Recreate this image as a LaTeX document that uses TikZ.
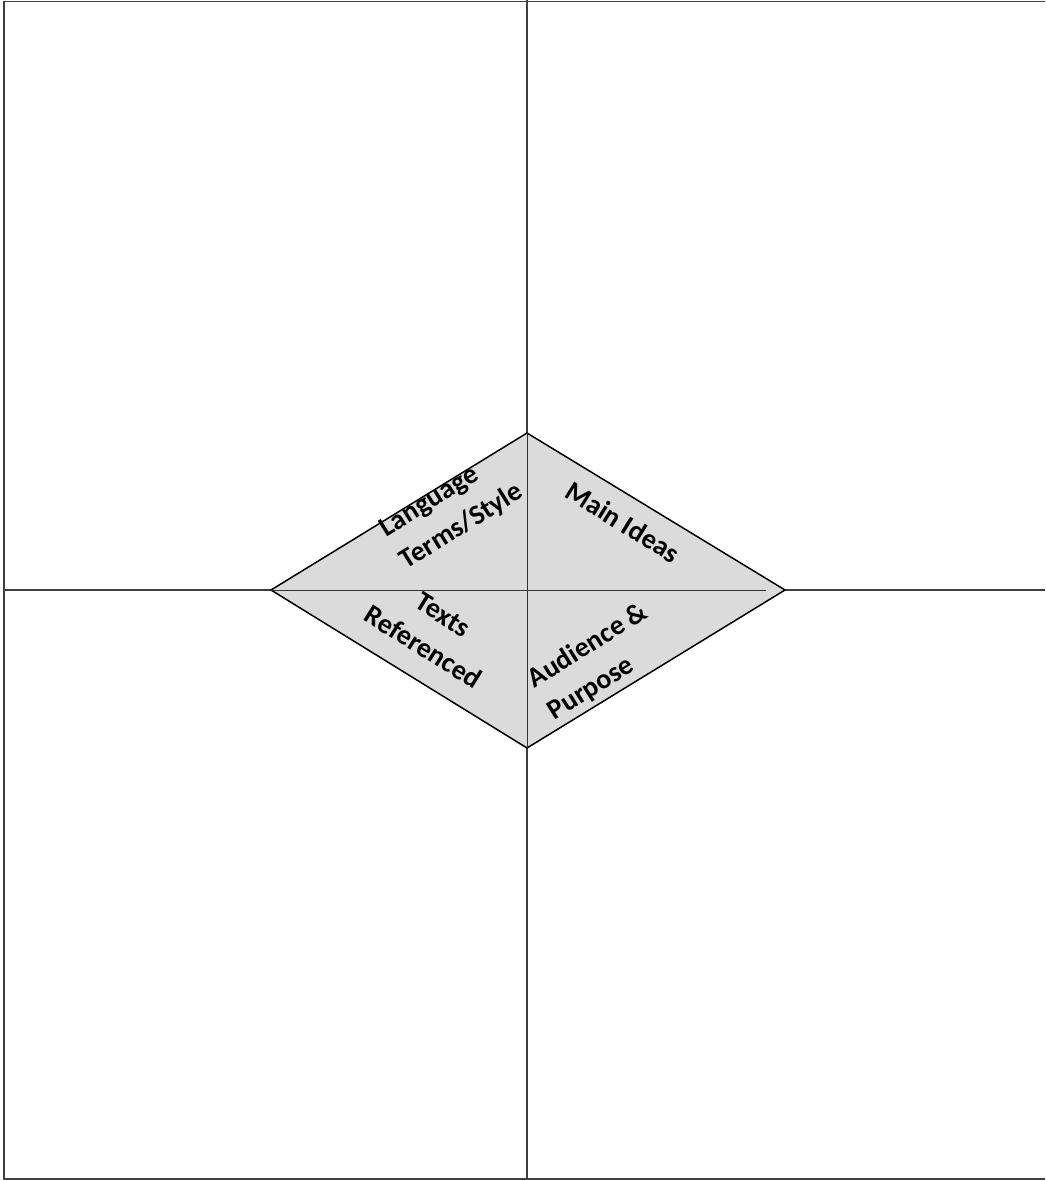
\documentclass[tikz,border=0pt]{standalone}
\usepackage{fontspec}
\setmainfont{Carlito}
\begin{document}
\begin{tikzpicture}[x=1pt,y=-1pt,
  frameline/.style={draw=black!75, line width=1.4pt},
  innerline/.style={draw=black!80, line width=1pt},
  diamondfill/.style={fill=black!14, draw=black, line width=1.5pt, line join=miter},
  lbl/.style={font=\fontsize{28}{38}\selectfont\bfseries, inner sep=0pt}]
\useasboundingbox (0,0) rectangle (1045,1180);
% corners and vertices
\coordinate (tl) at (4,1.5);
\coordinate (bl) at (4,1179);
\coordinate (trr) at (1045,1.5);
\coordinate (brr) at (1045,1179);
\coordinate (vt) at (527,0);
\coordinate (vb) at (527,1180);
\coordinate (hl) at (4,590);
\coordinate (hr) at (1045,590);
\coordinate (dT) at (527,433);
\coordinate (dB) at (527,748);
\coordinate (dL) at (271,590);
\coordinate (dR) at (785,590);
\coordinate (hin) at (766,590);
% frame
\draw[frameline] (trr) -- (tl) -- (bl) -- (brr);
\draw[frameline] (vt) -- (vb);
\draw[frameline] (hl) -- (hr);
% diamond
\path[diamondfill] (dT) -- (dR) -- (dB) -- (dL) -- cycle;
\draw[innerline] (dL) -- (hin);
\draw[innerline] (dT) -- (dB);
% labels
\node[lbl, rotate=32, align=left] (lang) at (452,511) {Language\\Terms/Style};
\node[lbl, rotate=-32] (main) at (623,522) {Main Ideas};
\node[lbl, rotate=-32, align=center] (texts) at (433,631) {Texts\\Referenced};
\node[lbl, rotate=32, align=left] (aud) at (598,662) {Audience \&\\Purpose};
\end{tikzpicture}
\end{document}
